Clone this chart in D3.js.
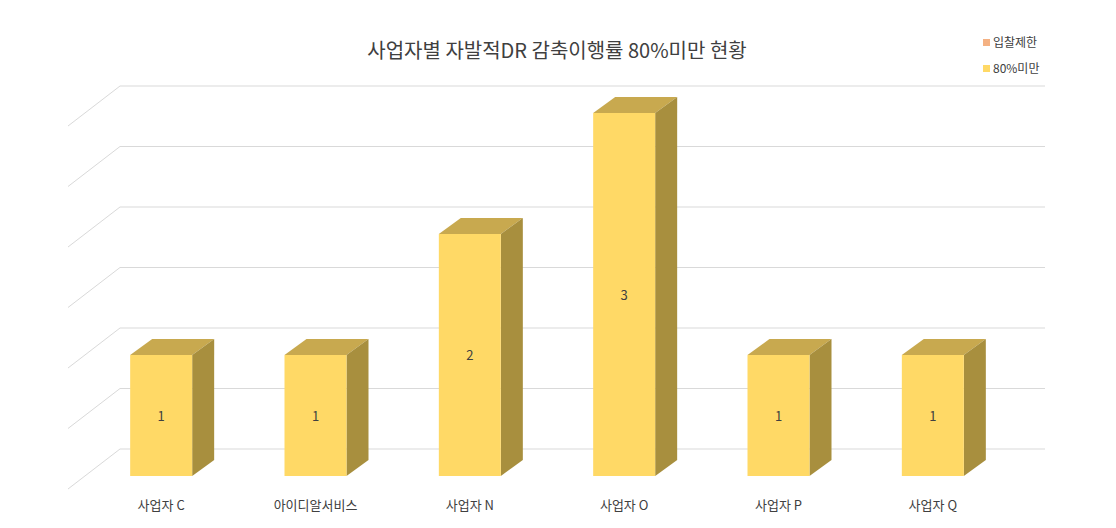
<!DOCTYPE html>
<html>
<head>
<meta charset="utf-8">
<style>
  body { margin: 0; background: #fff; }
  text { font-family: "Noto Sans CJK KR", "Noto Sans", sans-serif; }
</style>
</head>
<body>
<div id="chart"></div>
<script src="https://d3js.org/d3.v7.min.js"></script>
<script>
// chart data
var categories = ["사업자 C", "아이디알서비스", "사업자 N", "사업자 O", "사업자 P", "사업자 Q"];
var under80 = [1, 1, 2, 3, 1, 1];
var seriesNames = ["입찰제한", "80%미만"];
var seriesColors = ["#f4b183", "#ffd966"];
var gridTicks = [0, 0.5, 1, 1.5, 2, 2.5, 3];

var width = 1116, height = 528;
var svg = d3.select("#chart").append("svg")
    .attr("width", width).attr("height", height);

// front plane scales
var x = d3.scaleBand().domain(categories).range([84, 1010]);
var y = d3.scaleLinear().domain([0, 3]).range([476, 113]);
var barW = 62, dx = 22, dy = -16;
// back wall offset relative to front plane
var wallX = 120, wallRight = 1045, wallDy = -27;

// gridlines: back wall + left side wall diagonals
gridTicks.forEach(function(t) {
  var yy = y(t) + wallDy;
  svg.append("line").attr("x1", wallX).attr("x2", wallRight)
    .attr("y1", yy).attr("y2", yy)
    .attr("stroke", "#d9d9d9").attr("stroke-width", 1);
  svg.append("line").attr("x1", wallX).attr("x2", 68)
    .attr("y1", yy).attr("y2", yy + 40)
    .attr("stroke", "#d9d9d9").attr("stroke-width", 1);
});

// 3D bars
var g = svg.selectAll(".bar").data(under80).enter().append("g");
g.each(function(d, i) {
  var el = d3.select(this);
  var x0 = x(categories[i]) + x.bandwidth() / 2 - barW / 2;
  var x1 = x0 + barW, yt = y(d), yb = y(0);
  // top face
  el.append("path")
    .attr("d", "M" + x0 + "," + yt + "L" + (x0 + dx) + "," + (yt + dy) +
      "L" + (x1 + dx) + "," + (yt + dy) + "L" + x1 + "," + yt + "Z")
    .attr("fill", "#c8a94f");
  // side face
  el.append("path")
    .attr("d", "M" + x1 + "," + yt + "L" + (x1 + dx) + "," + (yt + dy) +
      "L" + (x1 + dx) + "," + (yb + dy) + "L" + x1 + "," + yb + "Z")
    .attr("fill", "#a88f3e");
  // front face
  el.append("rect").attr("x", x0).attr("y", yt)
    .attr("width", barW).attr("height", yb - yt)
    .attr("fill", "#ffd966");
  el.append("text").attr("x", x0 + barW / 2).attr("y", (yt + yb) / 2 + 5)
    .attr("text-anchor", "middle").attr("font-size", 13).attr("fill", "#404040")
    .text(d);
});

// category labels
svg.selectAll(".cat").data(categories).enter().append("text")
  .attr("x", function(d) { return x(d) + x.bandwidth() / 2; })
  .attr("y", 510)
  .attr("text-anchor", "middle").attr("font-size", 13).attr("fill", "#404040")
  .text(function(d) { return d; });

// title
svg.append("text").attr("x", 557).attr("y", 58)
  .attr("text-anchor", "middle").attr("font-size", 20).attr("fill", "#404040")
  .text("사업자별 자발적DR 감축이행률 80%미만 현황");

// legend
seriesNames.forEach(function(n, i) {
  var ly = 44 + i * 26;
  svg.append("rect").attr("x", 983).attr("y", ly - 5).attr("width", 7).attr("height", 7)
    .attr("fill", seriesColors[i]);
  svg.append("text").attr("x", 993).attr("y", ly + 3).attr("font-size", 12)
    .attr("fill", "#404040").text(n);
});
</script>
</body>
</html>
